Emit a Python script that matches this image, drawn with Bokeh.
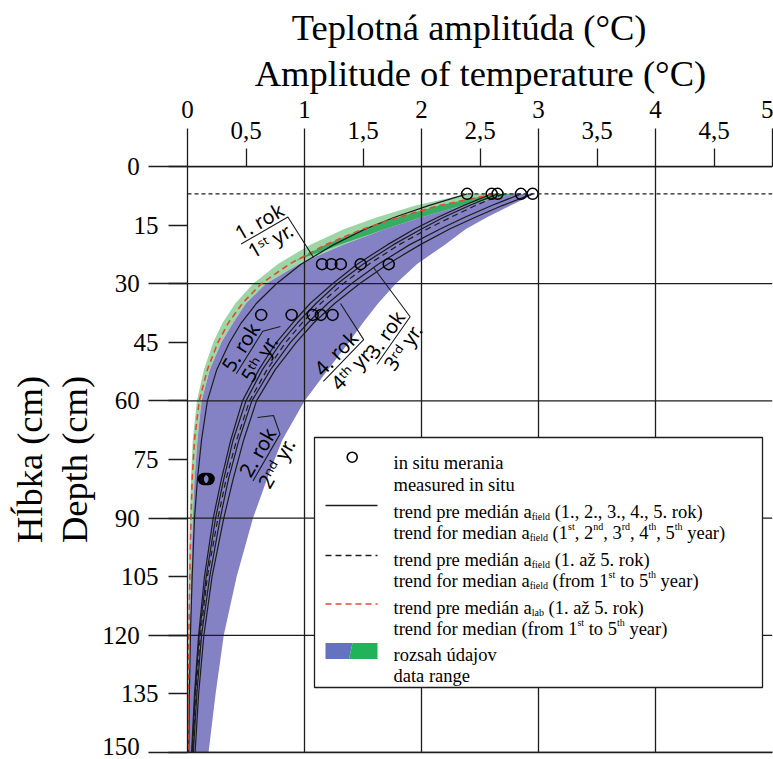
import math
from bokeh.plotting import figure
from bokeh.models import Range1d, LinearAxis, FixedTicker, Span, Title
from bokeh.core.properties import value
from bokeh.embed import file_html
from bokeh.resources import INLINE

# ---------------- data ----------------
depth_cm = [7, 10, 13, 16, 20, 25, 30, 35, 40, 45, 52, 60, 70, 80, 90, 105, 120, 135, 150]

trend_year_1 = [2.39, 2.06, 1.77, 1.52, 1.25, 0.97, 0.76, 0.59, 0.46, 0.36, 0.25, 0.17, 0.12, 0.085, 0.06, 0.04, 0.025, 0.016, 0.01]
trend_year_5 = [2.60, 2.36, 2.14, 1.94, 1.71, 1.45, 1.24, 1.05, 0.90, 0.76, 0.61, 0.47, 0.37, 0.29, 0.22, 0.145, 0.095, 0.06, 0.035]
trend_year_2 = [2.65, 2.41, 2.19, 2.00, 1.76, 1.50, 1.28, 1.10, 0.94, 0.80, 0.64, 0.50, 0.39, 0.31, 0.24, 0.16, 0.10, 0.065, 0.04]
trend_year_4 = [2.85, 2.60, 2.37, 2.16, 1.90, 1.63, 1.40, 1.20, 1.03, 0.88, 0.71, 0.55, 0.44, 0.35, 0.28, 0.19, 0.12, 0.08, 0.05]
trend_year_3 = [2.95, 2.69, 2.46, 2.24, 1.99, 1.71, 1.47, 1.26, 1.08, 0.93, 0.75, 0.59, 0.48, 0.39, 0.31, 0.21, 0.14, 0.095, 0.065]
trend_median_field = [2.70, 2.46, 2.25, 2.05, 1.81, 1.55, 1.33, 1.14, 0.98, 0.84, 0.68, 0.53, 0.42, 0.33, 0.26, 0.17, 0.11, 0.07, 0.045]
trend_median_lab = [2.62, 2.15, 1.80, 1.50, 1.18, 0.87, 0.63, 0.47, 0.35, 0.26, 0.17, 0.10, 0.06, 0.04, 0.03, 0.02, 0.012, 0.008, 0.005]

field_range_left = [2.80, 2.35, 2.00, 1.69, 1.33, 0.95, 0.67, 0.50, 0.39, 0.29, 0.19, 0.12, 0.085, 0.06, 0.045, 0.03, 0.02, 0.015, 0.012]
field_range_right = [2.97, 2.76, 2.56, 2.38, 2.20, 1.96, 1.78, 1.63, 1.50, 1.38, 1.20, 1.00, 0.81, 0.68, 0.56, 0.42, 0.31, 0.24, 0.18]
lab_range_left = [2.40, 1.95, 1.62, 1.34, 1.05, 0.77, 0.56, 0.41, 0.30, 0.22, 0.14, 0.08, 0.045, 0.03, 0.02, 0.012, 0.008, 0.005, 0.003]

lab_core_depth = [7, 10, 13, 16, 20, 24]
lab_core_left = [2.62, 2.15, 1.80, 1.50, 1.18, 0.93]
lab_core_right = [2.80, 2.35, 2.00, 1.69, 1.30, 0.94]

insitu_depth = [7, 7, 7, 7, 7, 25, 25, 25, 25, 25, 38, 38, 38, 38, 38, 80, 80, 80, 80, 80]
insitu_amp = [2.39, 2.60, 2.65, 2.85, 2.95,
              1.15, 1.23, 1.31, 1.48, 1.72,
              0.63, 0.89, 1.07, 1.14, 1.24,
              0.14, 0.15, 0.16, 0.17, 0.18]

surface_depth = 7

x_major_ticks = [0, 1, 2, 3, 4, 5]
x_major_labels = ["0", "1", "2", "3", "4", "5"]
x_minor_ticks = [0.5, 1.5, 2.5, 3.5, 4.5]
x_minor_labels = ["0,5", "1,5", "2,5", "3,5", "4,5"]
y_major_ticks = [0, 30, 60, 90, 120, 150]
y_minor_ticks = [15, 45, 75, 105, 135]
grid_x = [1, 2, 3, 4]

title_lines = ["Teplotná amplitúda (°C)", "Amplitude of temperature (°C)"]
ytitle_lines = ["Hĺbka (cm)", "Depth (cm)"]

# ---------------- layout helpers (pixel -> data) ----------------
W, H = 773, 759
FL, FT, FR, FB = 187, 166, 772, 752
SX = (FR - FL) / 5.0
SY = (FB - FT) / 150.0


def ax(px):
    return (px - FL) / SX


def az(py):
    return (py - FT) / SY


SERIF = "Liberation Serif"
INK = "#1c1c1c"
NB = "\u00a0"

# Times / Liberation Serif advance widths (em)
TW = {' ': 0.25, '(': 0.333, ')': 0.333, ',': 0.25, '.': 0.25, '°': 0.4, '1': 0.5, '2': 0.5, '3': 0.5,
      '4': 0.5, '5': 0.5, 'A': 0.722, 'C': 0.667, 'T': 0.611, 'a': 0.444, 'á': 0.444, 'b': 0.5, 'c': 0.444,
      'd': 0.5, 'e': 0.444, 'f': 0.333, 'g': 0.5, 'h': 0.5, 'i': 0.278, 'j': 0.278, 'k': 0.5, 'l': 0.278,
      'm': 0.778, 'n': 0.5, 'o': 0.5, 'p': 0.5, 'r': 0.333, 's': 0.389, 't': 0.278, 'u': 0.5, 'ú': 0.5,
      'v': 0.5, 'y': 0.5, 'z': 0.444, 'ž': 0.444}


def tw(s, size):
    return sum(TW.get(c, 0.5) for c in s) * size


p = figure(width=W, height=H, x_range=Range1d(0, 5), y_range=Range1d(150, 0),
           output_backend="svg", toolbar_location=None,
           x_axis_location=None, y_axis_location=None,
           min_border_left=FL, min_border_right=W - FR, min_border_top=FT, min_border_bottom=H - FB)
p.outline_line_color = None
for g in p.grid:
    g.visible = False

tick_style = dict(axis_line_color=INK, axis_line_width=1.3,
                  major_tick_line_color=INK, major_tick_line_width=1.3,
                  minor_tick_line_color=INK, minor_tick_line_width=1.3,
                  major_label_text_font=SERIF, major_label_text_font_size="25px",
                  major_label_text_color="black")

# top: inner axis carries the half-unit labels, outer axis the whole-unit labels
top_inner = LinearAxis(ticker=FixedTicker(ticks=x_minor_ticks, minor_ticks=x_major_ticks),
                       major_label_overrides={t: l for t, l in zip(x_minor_ticks, x_minor_labels)},
                       major_tick_out=18, major_tick_in=0, minor_tick_out=38, minor_tick_in=0,
                       major_label_standoff=-10, **tick_style)
p.add_layout(top_inner, "above")
top_outer = LinearAxis(ticker=FixedTicker(ticks=x_major_ticks, minor_ticks=[]),
                       major_label_overrides={t: l for t, l in zip(x_major_ticks, x_major_labels)},
                       major_tick_out=0, major_tick_in=0, minor_tick_out=0, minor_tick_in=0,
                       major_label_standoff=1,
                       axis_line_color=None, major_tick_line_color=None, minor_tick_line_color=None,
                       major_label_text_font=SERIF, major_label_text_font_size="25px",
                       major_label_text_color="black")
p.add_layout(top_outer, "above")

# left: all 15-cm ticks carry labels; 30-cm ones sit further out
y_all = sorted(y_major_ticks + y_minor_ticks)
y_over = {t: (str(t) + NB * 3 if t in y_major_ticks else str(t)) for t in y_all}
left_axis = LinearAxis(ticker=FixedTicker(ticks=y_all, minor_ticks=y_major_ticks),
                       major_label_overrides=y_over,
                       major_tick_out=19, major_tick_in=0, minor_tick_out=39, minor_tick_in=0,
                       major_label_standoff=-10, **tick_style)
p.add_layout(left_axis, "left")

bottom_axis = LinearAxis(ticker=FixedTicker(ticks=[], minor_ticks=[]), major_label_text_font_size="0px",
                         major_tick_out=0, minor_tick_out=0, major_label_standoff=0,
                         axis_line_color=INK, axis_line_width=1.3)
p.add_layout(bottom_axis, "below")

# titles (stacked outward from the axes)
for line, cx, so in [(title_lines[1], 480, 7), (title_lines[0], 470, -1)]:
    p.add_layout(Title(text=line, align="left", offset=cx - tw(line, 36.5) / 2 - FL, standoff=so,
                       text_font=SERIF, text_font_size="36.5px", text_font_style="normal",
                       text_color="black"), "above")
for line, so in [(ytitle_lines[1], 9), (ytitle_lines[0], -5)]:
    p.add_layout(Title(text=line, align="center", standoff=so,
                       text_font=SERIF, text_font_size="36.5px", text_font_style="normal",
                       text_color="black"), "left")

# bands
p.harea(x1=lab_range_left, x2=field_range_left, y=depth_cm, fill_color="#9cd5a6")
p.harea(x1=lab_core_left, x2=lab_core_right, y=lab_core_depth, fill_color="#36ad63")
p.harea(x1=field_range_left, x2=field_range_right, y=depth_cm, fill_color="#8482c4")

# grid lines
p.segment(x0=grid_x, x1=grid_x, y0=[0] * len(grid_x), y1=[150] * len(grid_x), line_color=INK, line_width=1.3)
p.segment(x0=[0] * len(y_major_ticks), x1=[5] * len(y_major_ticks), y0=y_major_ticks, y1=y_major_ticks,
          line_color=INK, line_width=1.3)
p.add_layout(Span(location=surface_depth, dimension="width", line_color=INK, line_width=1.2, line_dash="4 3"))

# trend lines
for tr in [trend_year_1, trend_year_2, trend_year_3, trend_year_4, trend_year_5]:
    p.line(x=tr, y=depth_cm, line_color=INK, line_width=1.2)
p.line(x=trend_median_field, y=depth_cm, line_color=INK, line_width=1.2, line_dash="6 4")
p.line(x=trend_median_lab, y=depth_cm, line_color="#e64b2c", line_width=1.6, line_dash="6 4")

p.scatter(x=insitu_amp, y=insitu_depth, marker="circle", size=11, fill_color=None,
          line_color="black", line_width=1.5)

# curve labels
curve_labels = [
    ("1. rok", "1ˢᵗ yr.", 264, 230, 30, 27, [(313, 257)]),
    ("5. rok", "5ᵗʰ yr.", 249, 352, 58, 25, [(280, 326)]),
    ("2. rok", "2ⁿᵈ yr.", 266, 457, 60, 27, [(273, 415), (257, 417)]),
    ("4. rok", "4ᵗʰ yr.", 343, 360, 46, 29, [(340, 303)]),
    ("3. rok", "3ʳᵈ yr.", 393, 340, 55, 29, [(373, 267)]),
]
SANS = "Noto Sans"
for top, bot, cx, cy, ang, half, leader in curve_labels:
    th = math.radians(ang)
    ux, uy = math.cos(th), -math.sin(th)
    nx, ny = -math.sin(th), -math.cos(th)
    x0, y0 = cx - half * ux, cy - half * uy
    x1, y1 = cx + half * ux, cy + half * uy
    pts = [(x0, y0), (x1, y1)] + leader
    p.line(x=[ax(a) for a, _ in pts], y=[az(b) for _, b in pts], line_color=INK, line_width=1.1)
    p.text(x=[ax(cx + 10.5 * nx)], y=[az(cy + 10.5 * ny)], text=[top], angle=th, text_align="center",
           text_baseline="middle", text_font=value(SANS), text_font_size="20px", text_color="black")
    p.text(x=[ax(cx - 11.5 * nx)], y=[az(cy - 11.5 * ny)], text=[bot], angle=th, text_align="center",
           text_baseline="middle", text_font=value(SANS), text_font_size="20px", text_color="black")

# ---------------- legend (drawn by hand) ----------------
p.quad(left=ax(314), right=ax(762), top=az(437), bottom=az(687), fill_color="white",
       line_color=INK, line_width=1.3)
p.scatter(x=[ax(351.7)], y=[az(456.7)], marker="circle", size=10, fill_color=None, line_color="black",
          line_width=1.6)
p.line(x=[ax(325), ax(377)], y=[az(505)] * 2, line_color=INK, line_width=1.3)
p.line(x=[ax(325), ax(377)], y=[az(555)] * 2, line_color=INK, line_width=1.3, line_dash="6 4")
p.line(x=[ax(325), ax(377)], y=[az(603.5)] * 2, line_color="#e64b2c", line_width=1.3, line_dash="6 4")
p.patch(x=[ax(325), ax(352), ax(348.5), ax(325)], y=[az(642.5), az(642.5), az(658.5), az(658.5)],
        fill_color="#6472c0", line_color=None)
p.patch(x=[ax(352), ax(377), ax(377), ax(348.5)], y=[az(642.5), az(642.5), az(658.5), az(658.5)],
        fill_color="#22b35a", line_color=None)

N, SUB, SUP = 0, 1, 2
legend_rows = [
    (462.5, [("in situ merania", N)]),
    (484.5, [("measured in situ", N)]),
    (511, [("trend pre medián a", N), ("field", SUB), (" (1., 2., 3., 4., 5. rok)", N)]),
    (532.5, [("trend for median a", N), ("field", SUB), (" (1", N), ("st", SUP), (", 2", N), ("nd", SUP),
             (", 3", N), ("rd", SUP), (", 4", N), ("th", SUP), (", 5", N), ("th", SUP), (" year)", N)]),
    (559, [("trend pre medián a", N), ("field", SUB), (" (1. až 5. rok)", N)]),
    (580.5, [("trend for median a", N), ("field", SUB), (" (from 1", N), ("st", SUP), (" to 5", N),
             ("th", SUP), (" year)", N)]),
    (607, [("trend pre medián a", N), ("lab", SUB), (" (1. až 5. rok)", N)]),
    (628.5, [("trend for median (from 1", N), ("st", SUP), (" to 5", N), ("th", SUP), (" year)", N)]),
    (654, [("rozsah údajov", N)]),
    (675.5, [("data range", N)]),
]
FS, FSS = 18.5, 10.0
big = dict(x=[], y=[], text=[])
small = dict(x=[], y=[], text=[])
for base, segs in legend_rows:
    x = 393.0
    for s, kind in segs:
        size = FS if kind == N else FSS
        lead = len(s) - len(s.lstrip(" "))
        x += tw(" " * lead, size)
        s2 = s.lstrip(" ")
        if kind == N:
            big["x"].append(ax(x)); big["y"].append(az(base)); big["text"].append(s2)
        else:
            dy = 4.5 if kind == SUB else -7.0
            small["x"].append(ax(x)); small["y"].append(az(base + dy)); small["text"].append(s2)
        x += tw(s2, size)
p.text(x=big["x"], y=big["y"], text=big["text"], text_align="left", text_baseline="alphabetic",
       text_font=value(SERIF), text_font_size="18.5px", text_color="black")
p.text(x=small["x"], y=small["y"], text=small["text"], text_align="left", text_baseline="alphabetic",
       text_font=value(SERIF), text_font_size="10px", text_color="black")

open("out.html", "w").write(file_html(p, INLINE))
